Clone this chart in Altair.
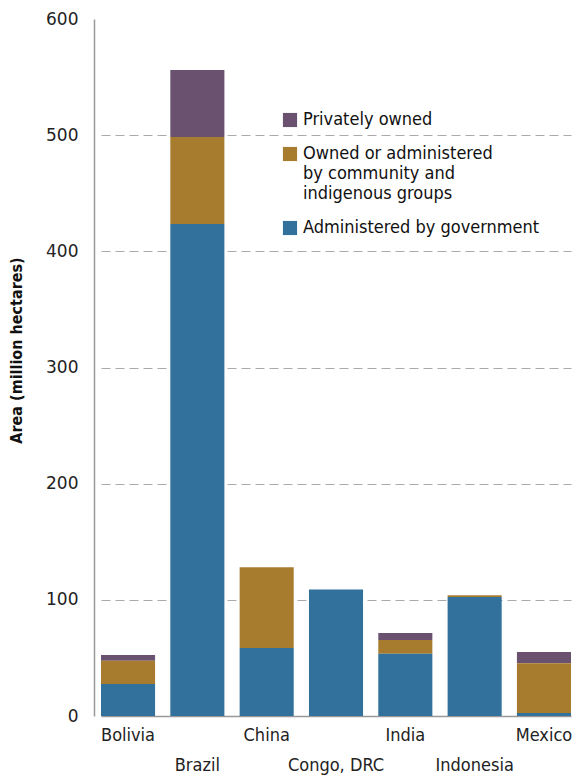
import altair as alt
import pandas as pd

countries = ["Bolivia", "Brazil", "China", "Congo, DRC", "India", "Indonesia", "Mexico"]
government = [27.5, 423.5, 58.5, 109.0, 53.5, 102.5, 2.5]
community = [20.0, 75.0, 69.5, 0.0, 12.0, 1.5, 43.0]
private = [5.0, 57.5, 0.0, 0.0, 6.0, 0.0, 9.5]

cats = ["Privately owned",
        "Owned or administered by community and indigenous groups",
        "Administered by government"]
colors = ["#6a5170", "#a77c2f", "#33719d"]
stack_order = [3, 2, 1]

rows = []
for i, c in enumerate(countries):
    for cat, vals, o in zip(cats, [private, community, government], stack_order):
        rows.append({"country": c, "category": cat, "value": vals[i], "ord": o})
df = pd.DataFrame(rows)

label_font = "DejaVu Sans Condensed, Roboto, sans-serif"

chart = alt.Chart(df).mark_bar().encode(
    x=alt.X("country:N", sort=countries, title=None,
            scale=alt.Scale(paddingInner=0.22, paddingOuter=0, range=[7, 477]),
            axis=alt.Axis(
                labelAngle=0, ticks=False, domainColor="#999999", domainWidth=1.5,
                labelFont=label_font, labelFontSize=18, labelColor="#222222",
                labelBaseline="top",
                labelPadding={"condition": {"test": "indexof(['Brazil','Congo, DRC','Indonesia'], datum.value) >= 0", "value": 40}, "value": 10},
            )),
    y=alt.Y("value:Q", title="Area (million hectares)",
            scale=alt.Scale(domain=[0, 600], nice=False),
            axis=alt.Axis(
                values=[0, 100, 200, 300, 400, 500, 600], ticks=False,
                domainColor="#999999", domainWidth=1.5,
                gridColor="#aaaaaa", gridDash=[9, 5], gridWidth=1,
                gridOpacity={"condition": {"test": "datum.value == 600 || datum.value == 0", "value": 0}, "value": 1},
                labelFont="DejaVu Sans", labelFontSize=17, labelColor="#222222",
                labelPadding=16,
                titleFont=label_font, titleFontSize=16, titleFontWeight="bold",
                titleColor="#111111", titlePadding=21, titleY=331,
            )),
    color=alt.Color("category:N", sort=cats,
                    scale=alt.Scale(domain=cats, range=colors),
                    legend=alt.Legend(
                        title=None, orient="none", legendX=187, legendY=92,
                        symbolType="square", symbolSize=200, symbolStrokeWidth=0,
                        labelFont=label_font, labelFontSize=18, labelColor="#111111",
                        labelLimit=400, labelOffset=4, rowPadding=16,
                        labelExpr="datum.label == 'Owned or administered by community and indigenous groups' ? ['Owned or administered', 'by community and', 'indigenous groups'] : datum.label",
                    )),
    order=alt.Order("ord:Q"),
).properties(
    width=478, height=697,
    autosize=alt.AutoSizeParams(type="none"),
    padding={"left": 86, "top": 11, "right": 0, "bottom": 60},
).configure_view(stroke=None)

chart.save("out.html", embed_options={"renderer": "svg", "actions": False})
